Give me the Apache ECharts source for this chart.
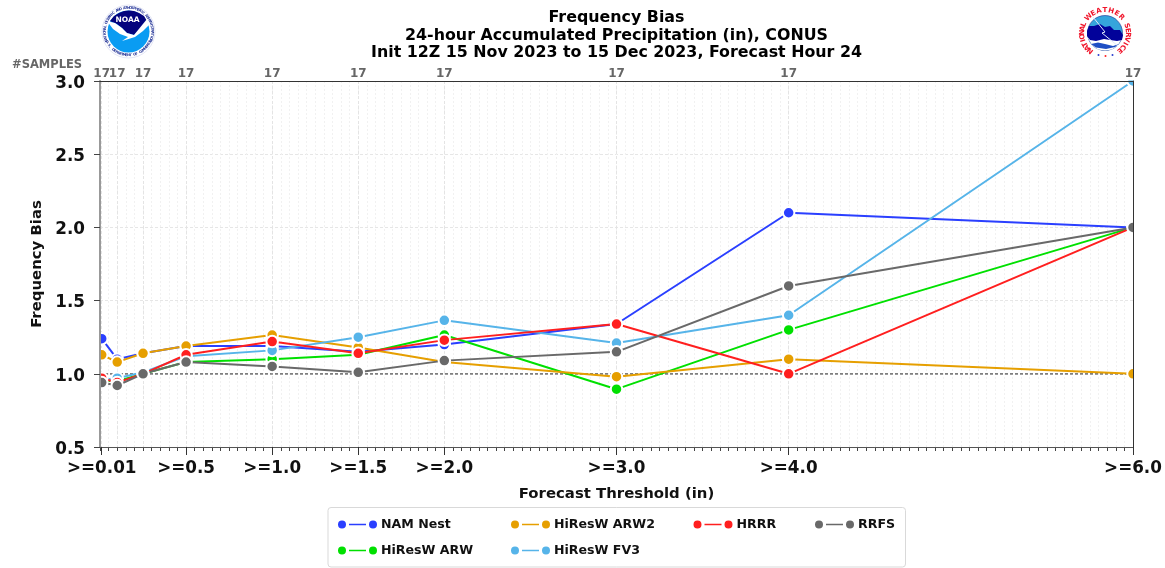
<!DOCTYPE html>
<html>
<head>
<meta charset="utf-8">
<title>Frequency Bias</title>
<script src="https://cdn.jsdelivr.net/npm/echarts@6/dist/echarts.min.js"></script>
<style>
  html, body { margin: 0; padding: 0; background: #fff; overflow: hidden; }
  #main { width: 1165px; height: 568px; }
</style>
</head>
<body>
<div id="main"></div>
<script>
// forecast thresholds (in) and the matching sample counts along the top
const thresholds = [0.01, 0.1, 0.25, 0.5, 1.0, 1.5, 2.0, 3.0, 4.0, 6.0]
const sampleCounts = [17, 17, 17, 17, 17, 17, 17, 17, 17, 17]

// labelled ticks on the bottom axis
const tickValues = [0.01, 0.5, 1.0, 1.5, 2.0, 3.0, 4.0, 6.0]
const tickLabels = ['>=0.01', '>=0.5', '>=1.0', '>=1.5', '>=2.0', '>=3.0', '>=4.0', '>=6.0']

// frequency bias per model
const namNest = [1.24, 1.10, 1.14, 1.19, 1.19, 1.15, 1.20, 1.34, 2.10, 2.00]
const hiresArw = [0.95, 0.95, 1.00, 1.08, 1.10, 1.13, 1.265, 0.895, 1.30, 2.00]
const hiresArw2 = [1.13, 1.08, 1.14, 1.19, 1.265, 1.18, 1.08, 0.98, 1.10, 1.00]
const hiresFv3 = [0.96, 0.97, 1.01, 1.12, 1.16, 1.25, 1.365, 1.21, 1.40, 3.00]
const hrrr = [0.97, 0.94, 1.00, 1.13, 1.22, 1.14, 1.23, 1.34, 1.00, 2.00]
const rrfs = [0.94, 0.92, 1.00, 1.08, 1.05, 1.01, 1.09, 1.15, 1.60, 2.00]

// unbiased reference line
const refX = [0, 6]
const refY = [1, 1]

const FONT = 'DejaVu Sans'
const legendIcon = 'path://M0 5a4 4 0 1 0 8 0a4 4 0 1 0-8 0ZM11 4.2h17v1.6h-17ZM31 5a4 4 0 1 0 8 0a4 4 0 1 0-8 0Z'

function makeSeries (name, values, color, z) {
  return {
    name: name,
    type: 'line',
    z: z,
    clip: false,
    silent: true,
    symbol: 'circle',
    symbolSize: 11.5,
    showAllSymbol: true,
    lineStyle: { color: color, width: 2 },
    itemStyle: { color: color, borderColor: '#fff', borderWidth: 2 },
    emphasis: { disabled: true },
    data: thresholds.map((t, i) => [t, values[i]])
  }
}

function makeLegend (left, names) {
  return {
    left: left,
    top: 518,
    orient: 'vertical',
    selectedMode: false,
    icon: legendIcon,
    itemWidth: 39,
    itemHeight: 10,
    itemGap: 13,
    padding: 0,
    itemStyle: { borderWidth: 0 },
    textStyle: { fontFamily: FONT, fontWeight: 'bold', fontSize: 12.6, color: '#111', padding: [0, 0, 0, -1] },
    data: names
  }
}

// top axis carrying sample counts at the given thresholds
function makeCountAxis (values) {
  return {
    type: 'value', min: 0, max: 6, position: 'top', z: 30,
    axisLine: { show: true, onZero: false, lineStyle: { color: '#333', width: 1 } },
    axisTick: { show: false, customValues: values },
    axisLabel: {
      show: true,
      customValues: values,
      showMinLabel: true,
      showMaxLabel: true,
      margin: 1,
      fontFamily: FONT,
      fontWeight: 'bold',
      fontSize: 12,
      color: '#666',
      formatter: v => String(sampleCounts[thresholds.indexOf(v)])
    },
    splitLine: { show: false }
  }
}

// letters set one by one round a circle, angles in degrees clockwise from the top
function ringText (text, cx, cy, r, from, to, fontSize, color, inverted) {
  const out = []
  const chars = text.split('')
  chars.forEach((c, i) => {
    const deg = from + (to - from) * i / (chars.length - 1)
    const a = deg * Math.PI / 180
    out.push({
      type: 'text',
      z: 25,
      x: cx + r * Math.sin(a),
      y: cy - r * Math.cos(a),
      rotation: inverted ? Math.PI - a : -a,
      style: { text: c, fontFamily: FONT, fontWeight: 'bold', fontSize: fontSize, fill: color, align: 'center', verticalAlign: 'middle' }
    })
  })
  return out
}

function noaaLogo () {
  const cx = 128.5
  const cy = 31.5
  return [
    { type: 'circle', z: 25, shape: { cx: cx, cy: cy, r: 26.5 }, style: { fill: '#fff', stroke: '#c8cdea', lineWidth: 0.5 } },
    { type: 'circle', z: 25, shape: { cx: cx, cy: cy, r: 21 }, style: { fill: '#0a9cf2' } },
    { type: 'polygon', z: 25, shape: { points: [[110, 21], [114, 16], [119, 13], [124, 11], [129, 10.5], [134, 11], [139, 13], [144, 16], [147, 21], [134, 35], [127, 33], [122, 28], [117, 24]] }, style: { fill: '#04047e' } },
    { type: 'polygon', z: 25, shape: { points: [[107, 21], [115, 23], [122, 28], [127, 33], [134, 35], [147, 19], [151, 23], [143, 31], [135, 37], [122, 41], [128, 37], [120, 34], [113, 29]] }, style: { fill: '#fff' } },
    { type: 'text', z: 26, x: cx - 1, y: 20.5, style: { text: 'NOAA', fontFamily: FONT, fontWeight: 'bold', fontSize: 7.5, fill: '#fff', align: 'center', verticalAlign: 'middle' } }
  ].concat(
    ringText('NATIONAL OCEANIC AND ATMOSPHERIC ADMINISTRATION', cx, cy, 23.8, -112, 112, 3.6, '#2a3a9a'),
    ringText('U.S. DEPARTMENT OF COMMERCE', cx, cy, 23.8, 245, 115, 3.6, '#2a3a9a', true)
  )
}

function nwsLogo () {
  const cx = 1105
  const cy = 33
  const dots = [[1098.5, 55], [1105.5, 56], [1112.5, 55]]
  return [
    { type: 'circle', z: 25, shape: { cx: cx, cy: cy, r: 17.5 }, style: { fill: '#35a5dc', stroke: '#1d2f8f', lineWidth: 0.6 } },
    { type: 'polygon', z: 25, shape: { points: [[1088, 38], [1092, 45], [1098, 49.5], [1105, 50.5], [1112, 49.5], [1118, 45], [1122, 38]] }, style: { fill: '#fff' } },
    { type: 'polygon', z: 25, shape: { points: [[1087, 31], [1089, 26], [1094, 26], [1100, 24], [1105, 27], [1110, 26], [1114, 30], [1120, 30], [1123, 35], [1122, 40], [1117, 41], [1110, 40], [1104, 39], [1096, 41], [1090, 40], [1087, 36]] }, style: { fill: '#02029a' } },
    { type: 'polygon', z: 25, shape: { points: [[1091, 44], [1098, 42.5], [1105, 44], [1113, 46], [1119, 44], [1115, 47], [1106, 49], [1096, 47.5]] }, style: { fill: '#1f4fc4' } },
    { type: 'polyline', z: 25, shape: { points: [[1093, 17], [1105, 32], [1102, 33], [1118, 46]] }, style: { fill: 'none', stroke: '#dfe9fb', lineWidth: 1 } }
  ].concat(
    dots.map(d => ({ type: 'circle', z: 25, shape: { cx: d[0], cy: d[1], r: 1 }, style: { fill: d[0] === 1105.5 ? '#f22' : '#2a3fd0' } })),
    ringText('NATIONAL', cx, cy, 22.8, -140, -68, 7, '#f0142a'),
    ringText('WEATHER', cx, cy, 22.8, -46, 46, 7, '#f0142a'),
    ringText('SERVICE', cx, cy, 22.8, 72, 140, 7, '#f0142a')
  )
}

const chart = echarts.init(document.getElementById('main'), null, { renderer: 'canvas' })

chart.setOption({
  animation: false,
  backgroundColor: '#fff',
  title: {
    left: 611.5,
    top: 4,
    textAlign: 'center',
    z: 40,
    text: 'Frequency Bias\n24-hour Accumulated Precipitation (in), CONUS\nInit 12Z 15 Nov 2023 to 15 Dec 2023, Forecast Hour 24',
    textStyle: { fontFamily: FONT, fontWeight: 'bold', fontSize: 15.85, lineHeight: 17.6, color: '#000' }
  },
  grid: { left: 100, right: 32, top: 81, bottom: 121 },
  legend: [
    makeLegend(338, ['NAM Nest', 'HiResW ARW']),
    makeLegend(511, ['HiResW ARW2', 'HiResW FV3']),
    makeLegend(693.5, ['HRRR']),
    makeLegend(815, ['RRFS'])
  ],
  xAxis: [
    { // faint grid every 0.05 plus the small bottom ticks
      type: 'value', min: 0, max: 6, interval: 0.05, position: 'bottom', z: 0,
      axisLine: { show: false, onZero: false },
      axisLabel: { show: false },
      axisTick: { show: true, length: 4, lineStyle: { color: '#444', width: 1 } },
      splitLine: { show: true, lineStyle: { color: '#f1f1f1', width: 1, type: [2, 2] } }
    },
    { // slightly stronger grid at the thresholds
      type: 'value', min: 0, max: 6, position: 'top', z: 0,
      axisLine: { show: false, onZero: false },
      axisLabel: { show: false },
      axisTick: { show: false, customValues: thresholds },
      splitLine: { show: true, lineStyle: { color: '#e4e4e4', width: 1, type: [3, 2] } }
    },
    { // threshold labels
      type: 'value', min: 0, max: 6, position: 'bottom', z: 30,
      name: 'Forecast Threshold (in)',
      nameLocation: 'middle',
      nameGap: 40,
      nameTextStyle: { fontFamily: FONT, fontWeight: 'bold', fontSize: 14.9, color: '#111' },
      axisLine: { show: true, onZero: false, lineStyle: { color: '#555', width: 1 } },
      axisTick: { show: true, length: 8, customValues: tickValues, lineStyle: { color: '#333', width: 1 } },
      axisLabel: {
        show: true,
        customValues: tickValues,
        margin: 13,
        fontFamily: FONT,
        fontWeight: 'bold',
        fontSize: 16.8,
        color: '#111',
        formatter: v => tickLabels[tickValues.indexOf(v)]
      },
      splitLine: { show: false }
    },
    // the first two counts sit too close for one axis to keep both
    makeCountAxis(thresholds.slice(0, 1)),
    makeCountAxis(thresholds.slice(1))
  ],
  yAxis: [
    {
      type: 'value', min: 0.5, max: 3, interval: 0.5, position: 'left', z: 0,
      axisLine: { show: false, onZero: false },
      axisTick: { show: false },
      axisLabel: { show: false },
      splitLine: { show: true, lineStyle: { color: '#e6e6e6', width: 1, type: [3, 2] } }
    },
    {
      type: 'value', min: 0.5, max: 3, interval: 0.5, position: 'left', z: 30,
      name: 'Frequency Bias',
      nameLocation: 'middle',
      nameGap: 55,
      nameTextStyle: { fontFamily: FONT, fontWeight: 'bold', fontSize: 14.9, color: '#111' },
      axisLine: { show: true, onZero: false, lineStyle: { color: '#999', width: 2 } },
      axisTick: { show: true, length: 6, lineStyle: { color: '#444', width: 1 } },
      axisLabel: {
        margin: 15,
        formatter: v => '{t|' + v.toFixed(1) + '}',
        rich: {
          t: { fontFamily: FONT, fontWeight: 'bold', fontSize: 16.8, color: '#111', padding: [5, 0, 0, 0] }
        }
      },
      splitLine: { show: false }
    },
    {
      type: 'value', min: 0.5, max: 3, interval: 0.5, position: 'right', z: 30,
      axisLine: { show: true, onZero: false, lineStyle: { color: '#333', width: 1 } },
      axisTick: { show: false },
      axisLabel: { show: false },
      splitLine: { show: false }
    }
  ],
  series: [
    {
      name: 'reference',
      type: 'line',
      z: 2,
      silent: true,
      symbol: 'none',
      lineStyle: { color: '#555', width: 1.2, type: [3, 2] },
      data: refX.map((x, i) => [x, refY[i]])
    },
    makeSeries('NAM Nest', namNest, '#2a3fff', 3),
    makeSeries('HiResW ARW', hiresArw, '#00e000', 4),
    makeSeries('HiResW ARW2', hiresArw2, '#e69f00', 5),
    makeSeries('HiResW FV3', hiresFv3, '#56b4e9', 6),
    makeSeries('HRRR', hrrr, '#ff1f1f', 7),
    makeSeries('RRFS', rrfs, '#696969', 8)
  ],
  graphic: {
    elements: [
      // white panels round the plot so markers stop at the frame
      { type: 'rect', z: 20, shape: { x: 0, y: 0, width: 99.5, height: 500 }, style: { fill: '#fff' } },
      { type: 'rect', z: 20, shape: { x: 0, y: 0, width: 1165, height: 80.5 }, style: { fill: '#fff' } },
      { type: 'rect', z: 20, shape: { x: 1133.5, y: 0, width: 32, height: 500 }, style: { fill: '#fff' } },
      { type: 'rect', z: 1, shape: { x: 328, y: 507.5, width: 577.5, height: 59.5, r: 3 }, style: { fill: '#fff', stroke: '#d9d9d9', lineWidth: 1 } },
      { type: 'text', z: 40, x: 12, y: 65, style: { text: '#SAMPLES', fontFamily: FONT, fontWeight: 'bold', fontSize: 11.5, fill: '#666', verticalAlign: 'middle' } }
    ].concat(noaaLogo(), nwsLogo())
  }
})
</script>
</body>
</html>
